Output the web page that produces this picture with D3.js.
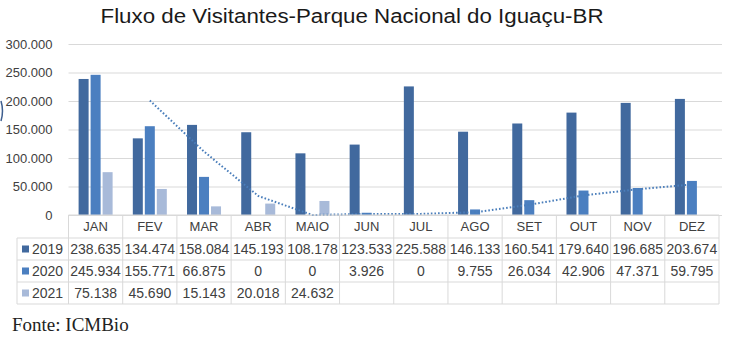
<!DOCTYPE html>
<html><head><meta charset="utf-8">
<script src="https://cdn.jsdelivr.net/npm/d3@7"></script>
<style>body{margin:0;background:#fff}svg{display:block}</style>
</head><body><svg id="c" width="732" height="337"></svg>
<script>
const months = ["JAN","FEV","MAR","ABR","MAIO","JUN","JUL","AGO","SET","OUT","NOV","DEZ"];
const seriesNames = ["2019","2020","2021"];
const v2019 = [238635,134474,158084,145193,108178,123533,225588,146133,160541,179640,196685,203674];
const v2020 = [245934,155771,66875,0,0,3926,0,9755,26034,42906,47371,59795];
const v2021 = [75138,45690,15143,20018,24632,null,null,null,null,null,null,null];
const yTicks = [0,50000,100000,150000,200000,250000,300000];
const colors = ["#41699e","#4b7fc0","#a8bad9"];

(function(){
const series = [v2019, v2020, v2021];
const svg = d3.select("#c");
const pL = 68.5, pR = 719, pT = 44, pB = 215;
const loc = d3.formatLocale({decimal:",", thousands:".", grouping:[3], currency:["R$",""]});
const fmt = loc.format(",d");

const x0 = d3.scaleBand().domain(months).range([pL, pR]);
const bw = x0.bandwidth();
const x1 = d3.scaleBand().domain([0,1,2]).range([(bw-34)/2, (bw+34)/2]).paddingInner(2/12);
const y = d3.scaleLinear().domain([0,300000]).range([pB, pT]);

svg.append("text").attr("x", 352).attr("y", 23).attr("text-anchor","middle")
  .attr("font-family","Liberation Sans, Arial, sans-serif").attr("font-size",20)
  .attr("fill","#1a1a1a").attr("textLength",503).attr("lengthAdjust","spacingAndGlyphs")
  .text("Fluxo de Visitantes-Parque Nacional do Iguaçu-BR");

const ax = svg.append("g").attr("transform",`translate(${pL},0)`)
  .call(d3.axisLeft(y).tickValues(yTicks).tickFormat(fmt).tickSize(-(722-pL)).tickPadding(16));
ax.select(".domain").remove();
ax.selectAll(".tick line").attr("stroke","#d9d9d9");
ax.selectAll(".tick text").attr("font-family","Liberation Sans, Arial, sans-serif")
  .attr("font-size",13).attr("fill","#404040");

const g = svg.append("g");
series.forEach((s, si) => {
  g.selectAll(null).data(months.map((m,i)=>({m, v:s[i]})).filter(d=>d.v!=null))
    .join("rect")
    .attr("x", d => x0(d.m) + x1(si))
    .attr("width", x1.bandwidth())
    .attr("y", d => y(d.v))
    .attr("height", d => pB - y(d.v))
    .attr("fill", colors[si]);
});

// trend line: 2-period moving average of 2020 (as in the source chart)
const trend = v2020.map((v,i)=> i===0 ? null : {m:months[i], v:(v + v2020[i-1])/2}).filter(d=>d);
svg.append("path").datum(trend)
  .attr("d", d3.line().x(d=>x0(d.m)+bw/2).y(d=>y(d.v)))
  .attr("fill","none").attr("stroke","#4a7ebb").attr("stroke-width",2)
  .attr("stroke-dasharray","1.6,2");

const rowsY = [215, 238, 260, 282, 304];
const tableLeft = 17;
const tg = svg.append("g").attr("font-family","Liberation Sans, Arial, sans-serif").attr("fill","#404040");
const lineC = "#d9d9d9";
tg.append("line").attr("x1",pL).attr("x2",pR).attr("y1",215).attr("y2",215).attr("stroke",lineC);
rowsY.slice(1).forEach(yy => tg.append("line").attr("x1",tableLeft).attr("x2",pR).attr("y1",yy).attr("y2",yy).attr("stroke",lineC));
months.forEach(m => tg.append("line").attr("x1",x0(m)).attr("x2",x0(m)).attr("y1",215).attr("y2",304).attr("stroke",lineC));
tg.append("line").attr("x1",pR).attr("x2",pR).attr("y1",215).attr("y2",304).attr("stroke",lineC);
tg.append("line").attr("x1",tableLeft).attr("x2",tableLeft).attr("y1",238).attr("y2",304).attr("stroke",lineC);
months.forEach(m => tg.append("text").attr("x",x0(m)+bw/2).attr("y",231).attr("text-anchor","middle")
  .attr("font-size",13).attr("fill","#404040").text(m));
series.forEach((s, si) => {
  const yc = (rowsY[si+1] + rowsY[si+2]) / 2;
  tg.append("rect").attr("x",22).attr("y",yc-3.5).attr("width",7).attr("height",7).attr("fill",colors[si]);
  tg.append("text").attr("x",32).attr("y",yc+5).attr("font-size",14).attr("fill","#404040").text(seriesNames[si]);
  s.forEach((v,i) => {
    if (v == null) return;
    tg.append("text").attr("x",x0(months[i])+bw/2).attr("y",yc+5).attr("text-anchor","middle")
      .attr("font-size",14).attr("fill","#404040").text(fmt(v));
  });
});

svg.append("text").attr("x",12).attr("y",331).attr("font-family","Liberation Serif, serif")
  .attr("font-size",19).attr("fill","#222").text("Fonte: ICMBio");

svg.append("path").attr("d","M1,101 Q4,111 1,121").attr("fill","none").attr("stroke","#3f5f8f").attr("stroke-width",1.5);
})();
</script></body></html>
